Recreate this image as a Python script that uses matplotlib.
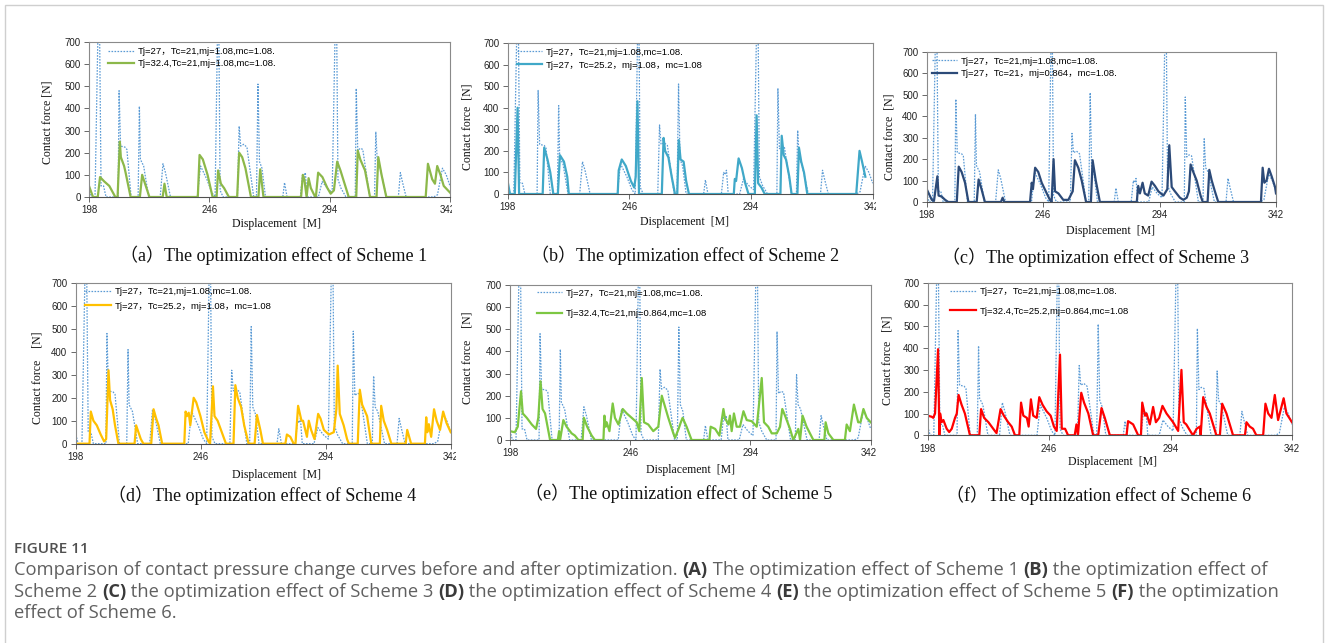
import matplotlib.pyplot as plt
import matplotlib.patches as patches
from matplotlib.transforms import Bbox, TransformedBbox

W, H = 1328, 643
SANS = ['Liberation Sans', 'Noto Sans CJK SC']
SERIF = ['Liberation Serif', 'Noto Sans CJK SC']

# reference case: Tj=27, Tc=21, mj=1.08, mc=1.08
base_x = [198, 199, 200.4, 202.0, 202.8, 203.8, 204.8,
          209.6, 210.0, 210.6, 212.4, 213.1, 214.8,
          217.6, 218.1, 218.5, 219.8, 221.8,
          226.4, 227.5, 228.5, 230.5,
          241.2, 242.5, 245.0, 247.0, 248.3, 249.6, 250.3, 251.5,
          257.2, 257.9, 258.5, 259.7, 261.0, 263.7,
          264.8, 265.4, 266.0, 267.0, 268.4,
          275.3, 276.0, 277.0,
          282.3, 283.2, 283.7, 284.3, 285.0,
          289.5, 291.0, 293.0, 295.0, 296.6, 297.3, 298.5, 300.5,
          304.2, 304.6, 305.2, 306.2, 307.2, 310.0,
          311.9, 312.4, 313.0, 314.0, 316.6,
          321.4, 322.2, 323.2, 324.5,
          335.5, 337.0, 339.0, 340.5, 342]
base_y = [40, 0, 0, 1020, 50, 50, 0,
          0, 480, 230, 225, 215, 0,
          0, 410, 170, 140, 0,
          0, 150, 110, 0,
          0, 140, 80, 20, 0, 1020, 30, 0,
          0, 320, 230, 238, 225, 0,
          0, 510, 160, 130, 0,
          0, 65, 0,
          0, 100, 90, 110, 0,
          0, 70, 40, 20, 1020, 80, 40, 0,
          0, 490, 210, 220, 215, 0,
          0, 295, 160, 140, 0,
          0, 110, 60, 0,
          0, 10, 130, 100, 50]

# scheme 1: Tj=32.4
s1_x = [198, 199.6, 201.5, 202.4, 204.1, 206.1, 208.5,
        209.4, 210.3, 210.7, 212.0, 212.6, 214.6,
        218.3, 219.2, 222.1,
        227.4, 228.1, 229.0,
        241.4, 242.1, 243.4, 245.3, 247.3,
        248.9, 249.5, 250.6, 251.9, 253.8,
        257.1, 257.9, 259.1, 260.4, 262.6,
        265.6, 266.3, 267.6,
        282.6, 283.3, 283.9, 284.8, 285.6, 286.5, 287.8, 288.5, 289.4, 291.1,
        293.1, 294.4, 295.7, 297.0, 298.3, 301.6,
        304.6, 305.2, 306.2, 308.1, 310.1,
        312.7, 313.4, 314.7, 316.6,
        332.3, 333.2, 334.9, 336.0, 336.9, 338.2, 339.5, 342]
s1_y = [50, 0, 0, 90, 70, 50, 0,
        0, 250, 180, 140, 110, 0,
        0, 100, 0,
        0, 60, 0,
        0, 190, 170, 100, 0,
        0, 120, 60, 40, 0,
        0, 200, 180, 130, 0,
        0, 125, 0,
        0, 100, 80, 0, 85, 40, 10, 0, 110, 90,
        40, 15, 30, 160, 120, 0,
        0, 210, 170, 120, 0,
        0, 180, 100, 0,
        0, 150, 80, 60, 140, 100, 50, 20]

# scheme 2: Tc=25.2
s2_x = [198, 198.9, 200.8, 201.9, 202.5,
        211.8, 212.4, 213.7, 214.8, 216.0,
        217.8, 218.6, 220.2, 221.5, 222.1,
        241.4, 241.8, 243.0, 244.6, 246.6, 247.9, 248.5, 249.2, 249.8,
        258.8, 259.5, 260.1, 261.4, 262.7, 264.0,
        264.9, 265.5, 266.2, 267.4, 268.4, 269.5,
        287.2, 287.6, 288.1, 289.1, 290.4, 291.7, 293.0,
        295.5, 296.2, 296.8, 298.1, 299.4,
        305.6, 306.1, 306.9, 307.8, 309.1, 310.0,
        312.3, 312.9, 313.8, 314.9, 316.2,
        335.5, 336.8, 337.8, 339.1]
s2_y = [57, 0, 0, 400, 0,
        0, 215, 160, 100, 0,
        0, 180, 150, 80, 0,
        0, 110, 160, 130, 60, 30, 80, 430, 0,
        0, 260, 200, 170, 80, 0,
        0, 250, 160, 150, 60, 0,
        0, 70, 60, 165, 120, 50, 0,
        0, 365, 50, 30, 0,
        0, 270, 180, 160, 80, 0,
        0, 215, 150, 100, 0,
        0, 200, 150, 80]

# scheme 3: mj=0.864
s3_x = [198, 200.1, 201.0, 202.4, 202.9, 204.2, 205.6, 206.9,
        210.4, 211.2, 212.4, 213.8, 215.2,
        218.6, 219.4, 220.6, 222.0,
        228.6, 229.3, 230.0,
        240.6, 241.3, 241.8, 242.7, 244.0, 245.4, 247.5, 248.8, 249.5, 250.3,
        250.9, 252.3, 254.3, 256.4, 258.2, 259.1, 260.5, 261.9, 263.7,
        265.7, 266.4, 267.7, 269.4,
        284.6, 285.2, 285.9, 287.0, 287.9, 289.3, 290.7, 292.1, 293.5, 295.6,
        297.2, 298.0, 299.0, 300.3, 302.4, 303.8, 305.2, 306.1, 306.8, 307.9,
        309.3, 310.9, 311.8,
        313.8, 314.5, 315.5, 316.8, 318.2,
        335.8, 336.5, 337.2, 338.1, 339.1, 340.2, 341.6, 342]
s3_y = [60, 10, 5, 120, 30, 25, 10, 0,
        0, 165, 140, 90, 0,
        0, 105, 60, 0,
        0, 20, 0,
        0, 90, 60, 160, 140, 90, 40, 10, 0, 200,
        50, 40, 10, 10, 50, 195, 160, 100, 0,
        0, 195, 100, 0,
        0, 75, 40, 90, 40, 30, 95, 75, 50, 30,
        60, 265, 70, 50, 20, 10, 20, 50, 175, 140,
        100, 30, 0,
        0, 150, 100, 50, 0,
        0, 160, 90, 100, 155, 120, 70, 40]

# scheme 4: Tc=25.2
s4_x = [198, 203.3, 203.8, 204.8, 206.1, 207.6, 208.9, 209.7, 210.6, 211.2, 212.2, 213.1, 214.4,
        220.6, 221.2, 222.1, 223.0, 224.0,
        227.0, 227.9, 228.9, 229.8, 231.2,
        239.7, 240.2, 240.7, 241.4, 242.0, 243.3, 244.3, 245.9, 247.4, 249.0,
        249.6, 250.7, 251.3, 252.5, 254.1, 255.7,
        258.6, 259.3, 260.2, 261.5, 262.7, 264.4,
        266.7, 267.6, 268.9, 269.9,
        278.5, 279.1, 280.4, 281.7,
        282.4, 283.4, 284.7, 285.3, 286.8, 287.5, 288.4, 289.7, 291.1, 292.0,
        293.3, 295.2, 297.1, 298.1, 298.6, 299.4, 300.9, 302.2, 302.9,
        306.3, 307.1, 308.0, 309.9, 311.5,
        314.8, 315.3, 316.3, 317.6, 319.2,
        324.7, 325.3, 326.8,
        332.1, 332.6, 333.0, 333.6, 334.5, 335.6, 336.6, 337.9, 339.1, 340.4, 342]
s4_y = [0, 0, 140, 100, 80, 40, 10, 20, 320, 190, 150, 80, 0,
        0, 80, 50, 20, 0,
        0, 150, 110, 80, 0,
        0, 140, 120, 135, 80, 200, 180, 120, 50, 10,
        0, 250, 120, 100, 50, 0,
        0, 255, 200, 160, 80, 0,
        0, 125, 60, 0,
        0, 40, 30, 0,
        0, 165, 100, 100, 30, 100, 60, 20, 130, 110,
        60, 40, 50, 150, 340, 130, 80, 20, 0,
        0, 235, 170, 120, 0,
        0, 165, 100, 60, 0,
        0, 60, 0,
        0, 115, 50, 85, 30, 150, 100, 60, 140, 90, 50]

# scheme 5: Tj=32.4, mj=0.864
s5_x = [198, 199.9, 201.1, 202.4, 203.1, 204.7, 206.7, 208.4, 209.3, 210.2, 211.0, 212.0, 213.0, 214.0,
        217.1, 217.6, 218.0, 219.3, 220.6, 222.6, 223.9, 225.3,
        227.0, 227.5, 228.8, 230.6, 231.9,
        235.3, 235.7, 236.2, 236.6, 237.7, 239.0, 239.9, 241.3, 243.0, 244.6,
        246.6, 248.6, 249.6, 250.6, 251.5, 253.2, 255.2, 257.2, 258.6, 259.9,
        261.2, 263.2, 263.9, 265.3, 266.2, 266.9, 268.5, 270.5,
        277.6, 278.1, 279.9, 281.6, 283.2, 283.8, 285.2, 285.8, 286.5, 287.4,
        288.5, 289.8, 291.2, 292.5, 294.5, 296.5, 298.5, 299.4, 301.1, 302.5,
        304.5, 305.8, 306.7, 307.8, 309.8, 311.1, 313.1, 313.8, 314.8, 316.4, 319.1,
        323.5, 324.0, 325.1, 327.1,
        331.7, 332.4, 333.7, 335.3, 337.0, 337.9, 339.1, 340.4, 342]
s5_y = [40, 35, 60, 220, 120, 100, 70, 50, 100, 265, 140, 120, 60, 0,
        0, 40, 0, 90, 60, 30, 20, 0,
        0, 100, 60, 20, 0,
        0, 110, 60, 80, 40, 165, 100, 70, 140, 120,
        100, 80, 40, 280, 80, 70, 40, 60, 200, 150,
        100, 30, 10, 50, 80, 100, 60, 0,
        0, 60, 50, 20, 140, 100, 70, 110, 40, 120,
        60, 60, 130, 90, 85, 60, 280, 80, 60, 30,
        30, 60, 140, 110, 50, 0, 50, 0, 110, 60, 0,
        0, 80, 30, 0,
        0, 70, 40, 160, 80, 80, 140, 100, 80]

# scheme 6: Tj=32.4, Tc=25.2, mj=0.864
s6_x = [198, 199.6, 200.2, 200.9, 202.1, 202.6, 202.9, 203.5, 204.2, 205.5, 206.5, 207.5,
        208.8, 209.5, 210.2, 211.4, 212.7, 214.7,
        218.4, 219.1, 220.3, 222.0, 223.9, 225.2, 226.8, 228.1, 229.8, 231.2, 232.5,
        234.2, 234.9, 235.8, 237.2, 237.9, 238.8, 239.7, 241.1, 242.1, 243.4,
        245.0, 246.6, 247.9, 249.0, 250.3, 251.0, 252.3, 253.5,
        256.1, 256.8, 257.4, 258.7, 259.8, 261.5, 263.4,
        265.4, 266.7, 268.0, 270.0,
        276.6, 277.2, 279.2, 281.2,
        282.3, 282.8, 283.9, 284.5, 285.8, 287.1, 288.2, 289.5, 290.8, 292.4,
        293.7, 295.0, 297.0, 298.3, 299.2, 300.2, 302.3, 302.9, 304.3, 305.6,
        305.9, 306.9, 308.2, 309.5, 312.1,
        313.5, 314.4, 316.1, 318.7,
        323.4, 324.0, 325.3, 326.6, 327.9,
        330.6, 331.5, 332.6, 333.9, 335.2, 336.5, 338.7, 339.8, 342]
s6_y = [90, 85, 80, 100, 395, 0, 100, 60, 70, 30, 15, 30,
        80, 100, 185, 140, 100, 0,
        0, 120, 80, 60, 30, 10, 120, 90, 60, 40, 0,
        0, 150, 90, 80, 40, 165, 90, 80, 175, 140,
        110, 90, 40, 20, 370, 30, 30, 0,
        0, 50, 0, 195, 150, 100, 0,
        0, 125, 80, 0,
        0, 65, 50, 0,
        0, 150, 90, 100, 50, 130, 60, 80, 135, 100,
        80, 60, 20, 300, 60, 50, 10, 0, 30, 40,
        0, 175, 130, 100, 0,
        0, 145, 100, 0,
        0, 60, 40, 30, 0,
        0, 145, 100, 80, 185, 70, 170, 100, 60]

base_label = 'Tj=27，Tc=21,mj=1.08,mc=1.08.'
labels = ['Tj=32.4,Tc=21,mj=1.08,mc=1.08.',
          'Tj=27，Tc=25.2，mj=1.08，mc=1.08',
          'Tj=27，Tc=21，mj=0.864，mc=1.08.',
          'Tj=27，Tc=25.2，mj=1.08，mc=1.08',
          'Tj=32.4,Tc=21,mj=0.864,mc=1.08',
          'Tj=32.4,Tc=25.2,mj=0.864,mc=1.08']
captions = ['（a）The optimization effect of Scheme 1',
            '（b）The optimization effect of Scheme 2',
            '（c）The optimization effect of Scheme 3',
            '（d）The optimization effect of Scheme 4',
            '（e）The optimization effect of Scheme 5',
            '（f）The optimization effect of Scheme 6']
series = [(s1_x, s1_y), (s2_x, s2_y), (s3_x, s3_y),
          (s4_x, s4_y), (s5_x, s5_y), (s6_x, s6_y)]
colors = ['#8CB84A', '#40A8C8', '#2C4A78', '#FFC000', '#7DC742', '#FF0000']
xticks = [198, 246, 294, 342]
yticks = [0, 100, 200, 300, 400, 500, 600, 700]

# pixel layout of each sub-figure; 'cut' = (label centre, clip edge) for the
# right-most x label that runs past the edge of the sub-figure
layout = [
    dict(box=(89, 42, 450, 197), xmax=340.1, ylab=(47, 122), xlab=(276, 224),
         cap=(274, 255), leg=(108, 52.7, 14.0), cut=(448, 452), ysp='Contact force [N]'),
    dict(box=(507.7, 43, 872.7, 194), xmax=339.2, ylab=(467, 127), xlab=(685, 222),
         cap=(685, 255), leg=(516.7, 53.3, 15.0), cut=(871.5, 876), ysp='Contact force  [N]'),
    dict(box=(926.7, 52, 1276, 202), xmax=342, ylab=(890, 137), xlab=(1111, 231),
         cap=(1096, 257), leg=(931.7, 62.3, 14.4), cut=None, ysp='Contact force  [N]'),
    dict(box=(75.7, 283, 450.7, 443.7), xmax=342, ylab=(37, 378), xlab=(277, 475),
         cap=(262, 495), leg=(85, 292.7, 16.6), cut=(451, 456), ysp='Contact force    [N]'),
    dict(box=(510, 285, 870.7, 440), xmax=342, ylab=(467, 358), xlab=(690, 470),
         cap=(679, 493), leg=(536.7, 294, 22.7), cut=(869, 876), ysp='Contact force    [N]'),
    dict(box=(927.7, 282.7, 1292, 435.3), xmax=342, ylab=(887, 360), xlab=(1112, 462),
         cap=(1099, 495), leg=(950, 292.7, 21.6), cut=None, ysp='Contact force   [N]'),
]


def fx(px):
    return px / W


def fy(py):
    return 1 - py / H


fig = plt.figure(figsize=(W / 100, H / 100), dpi=100)

# light frame around the whole figure block
fig.patches.append(patches.Rectangle((fx(4.5), fy(660)), fx(1323) - fx(4.5), fy(4.5) - fy(660),
                                     transform=fig.transFigure, fill=False,
                                     edgecolor='#cfcfcf', lw=1.0))

LEG_FS = 6.8
for (sx, sy), col, lab, cap, L in zip(series, colors, labels, captions, layout):
    l, t, r, b = L['box']
    ax = fig.add_axes([fx(l), fy(b), (r - l) / W, (b - t) / H])
    ax.plot(base_x, base_y, color='#5B9BD5', lw=0.9, ls=(0, (1.3, 1.1)), label=base_label)
    ax.plot(sx, sy, color=col, lw=1.6, label=lab)
    ax.set_xlim(198, L['xmax'])
    ax.set_ylim(0, 700)
    ax.set_xticks(xticks)
    ax.set_yticks(yticks)
    if L['cut'] is not None:
        ax.set_xticklabels(['198', '246', '294', ''])
    for s in ax.spines.values():
        s.set_color('#8a8a8a')
        s.set_linewidth(0.8)
    ax.spines['bottom'].set_color('#505050')
    ax.tick_params(direction='out', length=3.5, width=0.6, colors='#505050',
                   labelsize=7, pad=2.5, labelcolor='#222222')
    for tl in ax.get_xticklabels() + ax.get_yticklabels():
        tl.set_family(SANS)

    # right-most tick label, cut off by the edge of the sub-figure
    if L['cut'] is not None:
        cx, edge = L['cut']
        t342 = fig.text(fx(cx), fy(b + 13), '342', ha='center', va='center',
                        fontsize=7, family=SANS, color='#222222')
        t342.set_clip_box(TransformedBbox(Bbox.from_extents(0, 0, fx(edge), 1),
                                          fig.transFigure))
        t342.set_clip_on(True)

    lx, ly, pitch = L['leg']
    fs_px = LEG_FS * 100 / 72
    ax.legend(loc='upper left', bbox_to_anchor=(fx(lx), fy(ly - 5.5)),
              bbox_transform=fig.transFigure, frameon=False, borderpad=0,
              borderaxespad=0, handlelength=2.7, handletextpad=0.4,
              labelspacing=max(0.05, (pitch - 11.0) / fs_px),
              prop=dict(family=SANS, size=LEG_FS))

    fig.text(fx(L['ylab'][0]), fy(L['ylab'][1]), L['ysp'], rotation=90,
             ha='center', va='center', family=SERIF, fontsize=8.5, color='#111111')
    fig.text(fx(L['xlab'][0]), fy(L['xlab'][1]), 'Displacement  [M]',
             ha='center', va='center', family=SERIF, fontsize=8.5, color='#111111')
    fig.text(fx(L['cap'][0]), fy(L['cap'][1]), cap, ha='center', va='center',
             family=SERIF, fontsize=13, color='#111111')

# figure caption below the panels
renderer = fig.canvas.get_renderer()
CAP_FONT = 'Open Sans'
CAP_FS = 13.2
CAP_COL = '#606060'


def text_width(s, weight):
    probe = fig.text(0, 0, s + 'x', fontsize=CAP_FS, family=CAP_FONT, fontweight=weight)
    ref = fig.text(0, 0, 'x', fontsize=CAP_FS, family=CAP_FONT, fontweight=weight)
    w = probe.get_window_extent(renderer).width - ref.get_window_extent(renderer).width
    probe.remove()
    ref.remove()
    return w


def draw_runs(x, y, runs):
    for s, bold in runs:
        weight = 'bold' if bold else 'normal'
        fig.text(fx(x), fy(y), s, ha='left', va='baseline', fontsize=CAP_FS,
                 family=CAP_FONT, fontweight=weight, color='#3a3a3a' if bold else CAP_COL)
        x += text_width(s, weight)


fig.text(fx(14), fy(553), 'FIGURE 11', ha='left', va='baseline', fontsize=11,
         family=CAP_FONT, fontweight='semibold', color='#505050')
draw_runs(14, 575, [('Comparison of contact pressure change curves before and after optimization. ', False),
                    ('(A)', True), (' The optimization effect of Scheme 1 ', False),
                    ('(B)', True), (' the optimization effect of', False)])
draw_runs(14, 597, [('Scheme 2 ', False), ('(C)', True),
                    (' the optimization effect of Scheme 3 ', False), ('(D)', True),
                    (' the optimization effect of Scheme 4 ', False), ('(E)', True),
                    (' the optimization effect of Scheme 5 ', False), ('(F)', True),
                    (' the optimization', False)])
draw_runs(14, 618, [('effect of Scheme 6.', False)])

fig.savefig('out.png', dpi=100)
